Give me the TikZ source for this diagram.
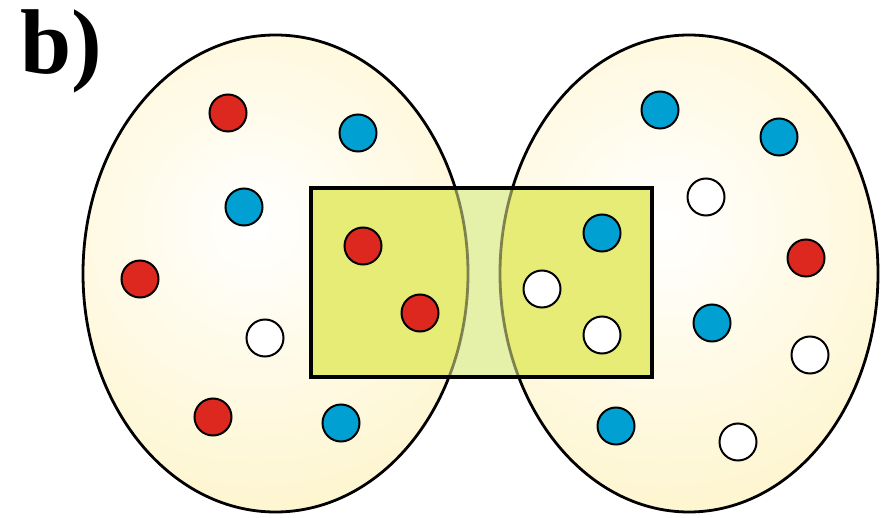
\documentclass[tikz,border=0pt]{standalone}
\usepackage{fontspec}
\setmainfont{Liberation Serif}
\begin{document}
\begin{tikzpicture}[x=1pt,y=-1pt,
  ell/.style={line width=2.8pt, draw=black},
  dot/.style={circle, draw=black, line width=2pt, minimum size=37pt, inner sep=0pt},
  rdot/.style={dot, fill=dotred},
  bdot/.style={dot, fill=dotblue},
  wdot/.style={dot, fill=white},
  boxborder/.style={draw=black, line width=3.2pt}
]
\definecolor{ellyellow}{RGB}{254,241,185}
\definecolor{dotred}{RGB}{220,40,30}
\definecolor{dotblue}{RGB}{0,160,210}
\definecolor{boxmid}{RGB}{229,240,168}
\definecolor{boxin}{RGB}{230,236,118}
\useasboundingbox (0,0) rectangle (883,518);
\fill[white] (0,0) rectangle (883,518);
% label
\node[anchor=base west, inner sep=0pt] (lbl) at (20,74) {\fontsize{92}{92}\selectfont\bfseries b)};
% ellipse fills
\begin{scope}
\clip (275.5,273.5) ellipse [x radius=192.5, y radius=238.5];
\shade[inner color=white, outer color=ellyellow] (255,225) circle [radius=420];
\end{scope}
\begin{scope}
\clip (689,273.5) ellipse [x radius=189, y radius=238.5];
\shade[inner color=white, outer color=ellyellow] (665,225) circle [radius=420];
\end{scope}
\draw[ell] (275.5,273.5) ellipse [x radius=192.5, y radius=238.5];
\draw[ell] (689,273.5) ellipse [x radius=189, y radius=238.5];
% box
\fill[boxmid] (311,188) rectangle (652,377);
\begin{scope}
\clip (311,188) rectangle (652,377);
\fill[boxin] (275.5,273.5) ellipse [x radius=192.5, y radius=238.5];
\fill[boxin] (689,273.5) ellipse [x radius=189, y radius=238.5];
\draw[ell, draw opacity=0.45] (275.5,273.5) ellipse [x radius=192.5, y radius=238.5];
\draw[ell, draw opacity=0.45] (689,273.5) ellipse [x radius=189, y radius=238.5];
\end{scope}
\draw[boxborder] (311,188) rectangle (652,377);
% left dots
\node[rdot] (l1) at (228,113) {};
\node[bdot] (l2) at (358,133) {};
\node[bdot] (l3) at (244,207) {};
\node[rdot] (l4) at (363,246) {};
\node[rdot] (l5) at (140,279) {};
\node[rdot] (l6) at (420,313) {};
\node[wdot] (l7) at (265,338) {};
\node[rdot] (l8) at (213,417) {};
\node[bdot] (l9) at (341,423) {};
% right dots
\node[bdot] (r1) at (660,110) {};
\node[bdot] (r2) at (779,137) {};
\node[wdot] (r3) at (706,197) {};
\node[bdot] (r4) at (602,233) {};
\node[rdot] (r5) at (806,258) {};
\node[wdot] (r6) at (542,289) {};
\node[bdot] (r7) at (712,323) {};
\node[wdot] (r8) at (602,335) {};
\node[wdot] (r9) at (810,355) {};
\node[bdot] (r10) at (616,426) {};
\node[wdot] (r11) at (738,442) {};
\end{tikzpicture}
\end{document}
